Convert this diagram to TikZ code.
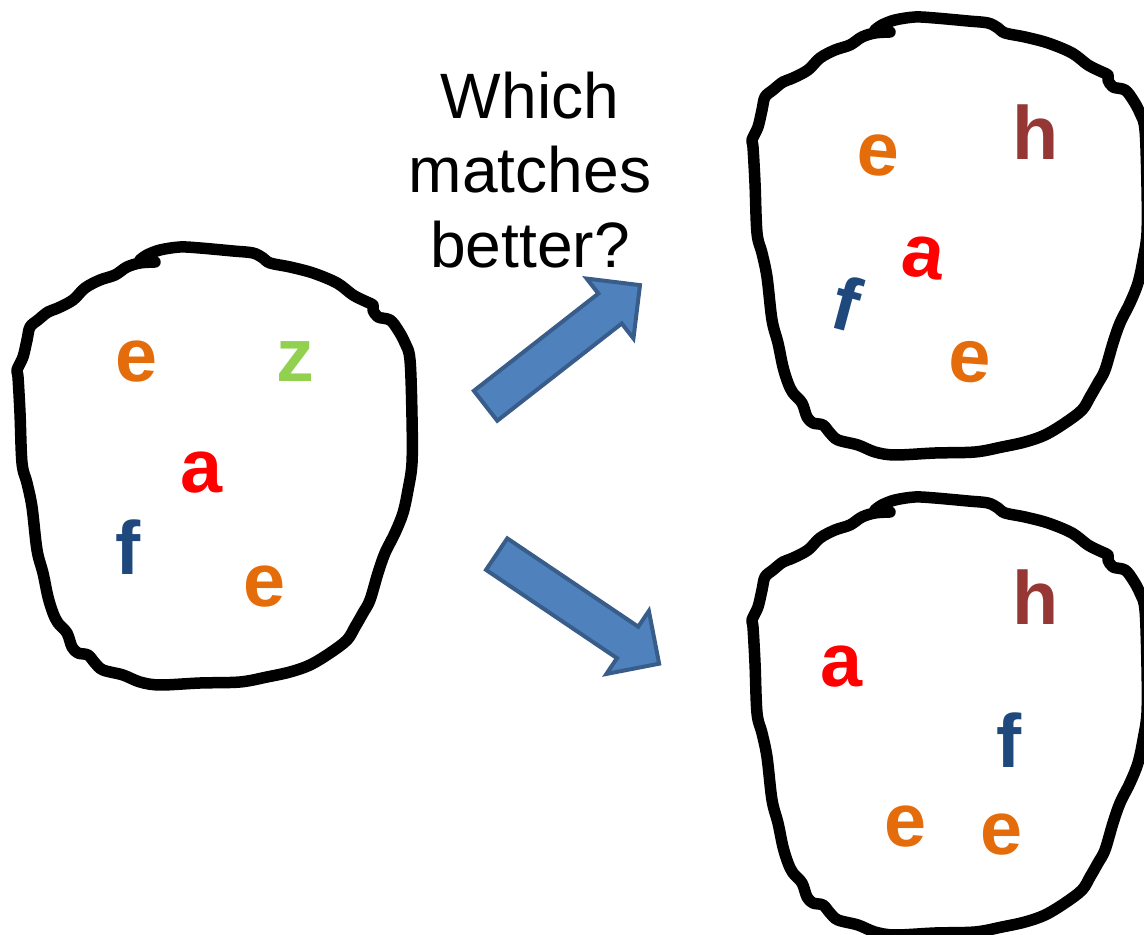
\documentclass[tikz,border=0pt]{standalone}
\usepackage{fontspec}
\setmainfont{Liberation Sans}
\usepackage{tikz}
\usetikzlibrary{shapes.arrows, positioning}
\usepackage{xcolor}
\definecolor{eOrange}{HTML}{E46C0A}
\definecolor{zGreen}{HTML}{92D050}
\definecolor{aRed}{HTML}{FF0000}
\definecolor{fBlue}{HTML}{1F497D}
\definecolor{hBrown}{HTML}{953735}
\definecolor{arrowFill}{HTML}{4F81BD}
\definecolor{arrowBorder}{HTML}{385D8A}

\begin{document}
\begin{tikzpicture}[
    x=0.02cm, y=-0.02cm,
    blob/.pic = {\draw[line width=0.23cm, line join=round, line cap=round] plot[smooth, tension=0.55] coordinates {
        (155,262) (140,263) (127,267) (115,275) (100,280) (85,288) (73,300) (58,308) (48,312) (38,320)
        (30,327) (27,340) (23,357) (17,370) (18,377) (20,413) (22,463) (27,483) (32,507) (37,550)
        (43,573) (48,597) (53,613) (58,623) (67,633) (72,647) (78,653) (88,655) (95,663) (103,670)
        (123,675) (140,682) (160,685) (200,683) (240,682) (267,677) (290,672) (310,665) (330,653) (347,640)
        (355,627) (363,613) (370,600) (378,573) (385,553) (395,533) (403,513) (408,490) (412,463) (412,417)
        (410,360) (405,343) (398,330) (390,320) (378,317) (373,310) (373,305) (367,302) (353,295) (337,283)
        (313,273) (290,267) (270,263) (263,258) (253,253) (233,251) (200,248) (180,247) (160,250) (147,255)
        (140,260)};},
    token/.style = {font=\bfseries\fontsize{43}{50}\selectfont, inner sep=0pt},
    bigarrow/.style = {single arrow, draw=arrowBorder, fill=arrowFill, line width=0.08cm, inner xsep=0pt, inner ysep=0.34cm, single arrow head extend=0.38cm, minimum height=3.92cm, anchor=tail},
    question/.style = {align=center, inner sep=0pt, font=\fontsize{36.5}{42.5}\selectfont}
]
\useasboundingbox (0,0) rectangle (1144,935);
\clip (0,0) rectangle (1144,935);

% the three sets
\pic at (0,0) {blob};
\pic at (735,-230) {blob};
\pic at (735,250) {blob};

% left set
\node (lE1) [token, text=eOrange] at (137,362) {e};
\node (lZ)  [token, text=zGreen]  at (295,362) {z};
\node (lA)  [token, text=aRed]    at (202,473) {a};
\node (lF)  [token, text=fBlue]   at (128,547) {f};
\node (lE2) [token, text=eOrange] at (265,587) {e};

% upper right set
\node (uE1) [token, text=eOrange, rotate=-5]  at (878,155) {e};
\node (uH)  [token, text=hBrown]              at (1036,132) {h};
\node (uA)  [token, text=aRed, rotate=-8]     at (923,258) {a};
\node (uF)  [token, text=fBlue, rotate=-15]   at (847,303) {f};
\node (uE2) [token, text=eOrange, rotate=-4]  at (970,362) {e};

% lower right set
\node (dH)  [token, text=hBrown]  at (1036,597) {h};
\node (dA)  [token, text=aRed]    at (842,667) {a};
\node (dF)  [token, text=fBlue]   at (1009,740) {f};
\node (dE1) [token, text=eOrange] at (906,827) {e};
\node (dE2) [token, text=eOrange] at (1002,835) {e};

\node (ask) [question] at (530,170) {Which\\matches\\better?};

% block arrows
\node (upArrow)   [bigarrow, rotate=38]  at (484,407) {};
\node (downArrow) [bigarrow, rotate=-34] at (495,553) {};

\end{tikzpicture}
\end{document}
